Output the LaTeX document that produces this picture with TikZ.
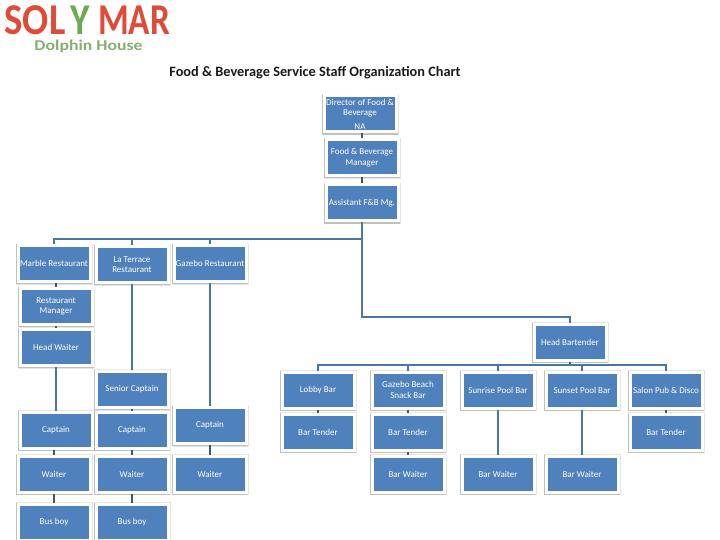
\documentclass[tikz,border=0pt]{standalone}
\usepackage{fontspec}
\setmainfont{Carlito}
\usetikzlibrary{arrows.meta, positioning, calc, shadows}
\definecolor{boxblue}{HTML}{4F81BD}
\definecolor{linkblue}{HTML}{4A76A3}
\definecolor{stubgray}{HTML}{3F5670}
\definecolor{logored}{HTML}{DE4B36}
\definecolor{loggreen}{HTML}{6BAA4F}
\definecolor{subgreen}{HTML}{84B06F}
\definecolor{dkink}{HTML}{1A1A1A}

\begin{document}
\begin{tikzpicture}[
  x=1pt, y=-1pt,
  box/.style={draw=white, line width=3pt, fill=boxblue, minimum width=72pt,
    minimum height=36pt, inner sep=0pt, font=\fontsize{9}{10.5}\selectfont,
    text=white, align=center,
    general shadow={shadow xshift=0.3pt, shadow yshift=-0.8pt, draw=black,
      line width=5.2pt, fill=black, opacity=0.10},
    general shadow={shadow xshift=0.3pt, shadow yshift=-0.8pt, draw=black,
      line width=4pt, fill=black, opacity=0.16}},
  conn/.style={line width=2.8pt, linkblue},
  stub/.style={line width=2.2pt, stubgray},
  logo/.style={font=\fontsize{44}{44}\selectfont\bfseries, inner sep=0pt},
]

\useasboundingbox (0,0) rectangle (720,540);

% Logo
\node[logo, text=logored, xscale=0.88] (logosol) at (35,20) {SOL};
\node[logo, text=loggreen, xscale=0.85] (logoy) at (80,20) {Y};
\node[logo, text=logored, xscale=0.80] (logomar) at (134,20) {MAR};
\node[font=\fontsize{15}{15}\selectfont\bfseries, text=subgreen, inner sep=0pt, xscale=1.18] (logosub) at (88.5,46) {Dolphin House};

% Title
\node[font=\fontsize{14.3}{15}\selectfont\bfseries, text=dkink, inner sep=0pt] (title) at (315,73)
  {Food \& Beverage Service Staff Organization Chart};

% === Top of the chart ===
\node[box] (director) at (360,114) {Director of Food \&\\Beverage\\[3pt]NA};
\node[box] (manager) at (362,157.5) {Food \& Beverage\\Manager};
\node[box] (assistant) at (362,203) {Assistant F\&B Mg.};

% === Restaurants ===
\node[box] (marble) at (54,263.5) {Marble Restaurant};
\node[box] (terrace) at (132,264.5) {La Terrace\\Restaurant};
\node[box] (gazebo) at (210,263.5) {Gazebo Restaurant};

\node[box] (restmgr) at (56,306.5) {Restaurant\\Manager};
\node[box] (headwaiter) at (56,347.5) {Head Waiter};
\node[box] (senior) at (132,389) {Senior Captain};

\node[box] (captainA) at (56,430) {Captain};
\node[box] (captainB) at (132,430) {Captain};
\node[box] (captainC) at (210,425.5) {Captain};

\node[box] (waiterA) at (54,474) {Waiter};
\node[box] (waiterB) at (132,474) {Waiter};
\node[box] (waiterC) at (210,474) {Waiter};

\node[box] (busboyA) at (54,522) {Bus boy};
\node[box] (busboyB) at (132,522) {Bus boy};

% === Bars ===
\node[box] (bartender) at (570,342) {Head Bartender};

\node[box] (lobby) at (318,390) {Lobby Bar};
\node[box] (beach) at (408,390) {Gazebo Beach\\Snack Bar};
\node[box] (sunrise) at (498,390) {Sunrise Pool Bar};
\node[box] (sunset) at (582,390) {Sunset Pool Bar};
\node[box] (salon) at (666,390) {Salon Pub \& Disco};

\node[box] (tenderA) at (318,432) {Bar Tender};
\node[box] (tenderB) at (408,432) {Bar Tender};
\node[box] (tenderC) at (666,432) {Bar Tender};

\node[box] (barwaiterA) at (408,474) {Bar Waiter};
\node[box] (barwaiterB) at (498,474) {Bar Waiter};
\node[box] (barwaiterC) at (582,474) {Bar Waiter};

% Junctions
\coordinate (busrest) at (362,239);
\coordinate (busbar) at (362,317);
\coordinate (busrow) at (570,365);

% === Connectors: top ===
\draw[stub] (director.south -| manager) -- (manager.north);
\draw[stub] (manager.south) -- (assistant.north);
\draw[conn] (assistant.south) -- (busrest) -| (marble.north);
\draw[conn] (busrest -| terrace) -- (terrace.north);
\draw[conn] (busrest -| gazebo) -- (gazebo.north);
\draw[conn] (busrest) -- (busbar) -| (bartender.north);

% === Connectors: restaurants ===
\draw[stub] (marble.south -| restmgr) -- (restmgr.north);
\draw[stub] (restmgr.south) -- (headwaiter.north);
\draw[conn] (headwaiter.south) -- (captainA.north);
\draw[conn] (terrace.south) -- (senior.north);
\draw[stub] (senior.south) -- (captainB.north);
\draw[conn] (gazebo.south) -- (captainC.north);
\draw[stub] (captainA.south -| waiterA) -- (waiterA.north);
\draw[stub] (captainB.south) -- (waiterB.north);
\draw[stub] (captainC.south) -- (waiterC.north);
\draw[stub] (waiterA.south) -- (busboyA.north);
\draw[stub] (waiterB.south) -- (busboyB.north);

% === Connectors: bars ===
\draw[stub] (bartender.south) -- (busrow);
\draw[conn] (lobby.north) |- (busrow);
\draw[conn] (beach.north) |- (busrow);
\draw[conn] (sunrise.north) |- (busrow);
\draw[conn] (sunset.north) |- (busrow);
\draw[conn] (salon.north) |- (busrow);
\draw[stub] (lobby.south) -- (tenderA.north);
\draw[stub] (beach.south) -- (tenderB.north);
\draw[stub] (salon.south) -- (tenderC.north);
\draw[stub] (tenderB.south) -- (barwaiterA.north);
\draw[conn] (sunrise.south) -- (barwaiterB.north);
\draw[conn] (sunset.south) -- (barwaiterC.north);

\end{tikzpicture}
\end{document}
